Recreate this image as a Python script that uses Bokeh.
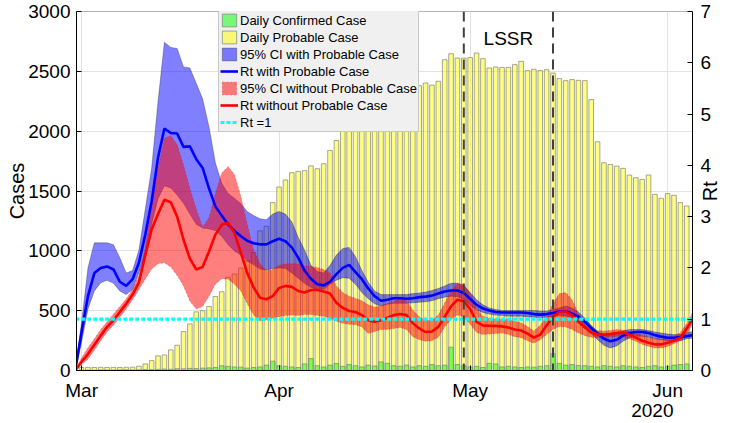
import math
from bokeh.plotting import figure
from bokeh.models import (Range1d, LinearAxis, FixedTicker, Span, Label,
                          Legend, LegendItem)
from bokeh.embed import file_html
from bokeh.resources import INLINE

# ---------------- data ----------------
month_ticks = [0, 31, 61, 92]          # day index from 1 March 2020
month_labels = ["Mar", "Apr", "May", "Jun"]
year_label = "2020"
year_label_day = 89.6
case_ticks = [0, 500, 1000, 1500, 2000, 2500, 3000]
rt_ticks = [0, 1, 2, 3, 4, 5, 6, 7]
rt_title = "Rt"
rt_title_pos = 3.3
lssr_days = [60, 74]
lssr_text = "LSSR"
rt_reference = 1

bar_days = list(range(0, 96))
daily_probable = [
    25, 26, 25, 27, 25, 26, 25, 27, 28, 36,
    55, 83, 122, 130, 172, 211, 325, 389, 490, 500,
    535, 618, 658, 778, 806, 856, 915, 985, 1167, 1205,
    1403, 1533, 1592, 1653, 1664, 1670, 1710, 1686, 1728, 1839,
    1922, 2010, 2060, 2100, 2150, 2120, 2190, 2230, 2200, 2260,
    2300, 2280, 2340, 2380, 2403, 2385, 2417, 2597, 2647, 2611,
    2611, 2615, 2653, 2606, 2528, 2536, 2533, 2533, 2556, 2583,
    2506, 2517, 2506, 2514, 2486, 2439, 2422, 2431, 2425, 2422,
    2264, 1911, 1736, 1722, 1708, 1689, 1633, 1611, 1597, 1633,
    1472, 1439, 1478, 1464, 1403, 1375]
daily_confirmed = [
    3, 4, 3, 5, 4, 4, 5, 6, 5, 6,
    8, 7, 10, 12, 10, 15, 14, 18, 16, 20,
    22, 25, 40, 35, 30, 28, 20, 25, 30, 45,
    78, 40, 35, 30, 25, 55, 100, 40, 30, 45,
    58, 35, 50, 40, 30, 45, 38, 72, 60, 40,
    36, 45, 30, 40, 35, 50, 40, 45, 195, 50,
    40, 30, 35, 25, 60, 55, 30, 35, 30, 25,
    30, 28, 35, 40, 140, 60, 45, 50, 42, 40,
    35, 30, 40, 35, 30, 40, 35, 30, 25, 35,
    40, 30, 35, 45, 50, 55]

rt_days = list(range(-1, 97))
rt_with_probable = [
    0.0, 0.75, 1.45, 1.90, 2.00, 2.03, 1.97, 1.73, 1.65, 1.78,
    2.10, 2.65, 3.30, 4.15, 4.72, 4.63, 4.62, 4.36, 4.37, 4.12,
    3.95, 3.55, 3.20, 3.02, 2.85, 2.72, 2.62, 2.53, 2.48, 2.46,
    2.46, 2.52, 2.57, 2.52, 2.40, 2.20, 1.95, 1.79, 1.68, 1.66,
    1.73, 1.88, 2.00, 2.06, 1.92, 1.78, 1.60, 1.45, 1.36, 1.38,
    1.41, 1.41, 1.40, 1.41, 1.43, 1.44, 1.46, 1.50, 1.54, 1.56,
    1.56, 1.51, 1.40, 1.28, 1.21, 1.17, 1.14, 1.13, 1.13, 1.13,
    1.13, 1.12, 1.10, 1.09, 1.10, 1.12, 1.15, 1.15, 1.11, 1.05,
    0.95, 0.83, 0.72, 0.62, 0.57, 0.60, 0.68, 0.73, 0.75, 0.75,
    0.73, 0.69, 0.66, 0.64, 0.64, 0.65, 0.67, 0.69]
ci_with_upper = [
    0.0, 0.95, 2.00, 2.49, 2.49, 2.49, 2.45, 2.20, 1.90, 1.95,
    2.35, 3.15, 3.95, 5.25, 6.40, 6.30, 6.28, 5.92, 5.90, 5.60,
    5.30, 4.75, 4.05, 3.65, 3.45, 3.36, 3.25, 3.10, 3.02, 2.96,
    2.94, 3.05, 3.10, 3.05, 2.90, 2.60, 2.35, 2.05, 1.93, 1.90,
    2.05, 2.25, 2.38, 2.40, 2.22, 1.95, 1.72, 1.55, 1.48, 1.48,
    1.48, 1.48, 1.48, 1.50, 1.51, 1.53, 1.56, 1.60, 1.65, 1.70,
    1.70, 1.65, 1.52, 1.38, 1.28, 1.22, 1.19, 1.17, 1.17, 1.17,
    1.17, 1.17, 1.17, 1.16, 1.16, 1.18, 1.22, 1.26, 1.22, 1.14,
    1.02, 0.88, 0.76, 0.70, 0.70, 0.72, 0.77, 0.80, 0.80, 0.80,
    0.78, 0.75, 0.73, 0.71, 0.70, 0.70, 0.74, 0.76]
ci_with_lower = [
    0.0, 0.55, 1.20, 1.55, 1.71, 1.76, 1.70, 1.55, 1.48, 1.58,
    1.90, 2.30, 2.85, 3.35, 3.60, 3.56, 3.42, 3.26, 3.05, 2.85,
    2.78, 2.76, 2.73, 2.62, 2.45, 2.33, 2.25, 2.14, 2.06, 1.98,
    1.96, 1.99, 2.00, 1.99, 1.90, 1.80, 1.70, 1.62, 1.58, 1.58,
    1.68, 1.76, 1.81, 1.80, 1.68, 1.52, 1.40, 1.30, 1.26, 1.29,
    1.31, 1.31, 1.31, 1.32, 1.33, 1.34, 1.36, 1.40, 1.43, 1.45,
    1.44, 1.39, 1.27, 1.18, 1.13, 1.10, 1.08, 1.07, 1.06, 1.06,
    1.06, 1.05, 1.04, 1.03, 1.04, 1.06, 1.07, 1.06, 1.03, 0.98,
    0.86, 0.72, 0.60, 0.49, 0.44, 0.48, 0.57, 0.64, 0.67, 0.67,
    0.65, 0.62, 0.60, 0.58, 0.57, 0.58, 0.62, 0.63]
rt_without_probable = [
    0.0, 0.17, 0.32, 0.50, 0.68, 0.85, 0.98, 1.14, 1.30, 1.48,
    1.72, 2.25, 2.75, 3.05, 3.33, 3.28, 3.00, 2.55, 2.18, 1.97,
    2.02, 2.32, 2.65, 2.84, 2.88, 2.68, 2.30, 1.90, 1.62, 1.42,
    1.39, 1.45, 1.61, 1.65, 1.63, 1.55, 1.52, 1.57, 1.57, 1.54,
    1.50, 1.32, 1.22, 1.16, 1.14, 1.08, 0.98, 0.95, 0.98, 1.03,
    1.08, 1.10, 1.08, 0.92, 0.82, 0.75, 0.76, 0.85, 1.05, 1.25,
    1.38, 1.35, 1.20, 0.95, 0.88, 0.87, 0.87, 0.86, 0.84, 0.80,
    0.78, 0.72, 0.64, 0.70, 0.88, 1.05, 1.14, 1.15, 1.08, 0.95,
    0.84, 0.74, 0.70, 0.70, 0.71, 0.73, 0.74, 0.70, 0.64, 0.58,
    0.54, 0.51, 0.51, 0.54, 0.58, 0.64, 0.82, 1.02]
ci_without_upper = [
    0.0, 0.25, 0.45, 0.62, 0.80, 0.95, 1.10, 1.25, 1.40, 1.58,
    1.85, 2.40, 3.25, 3.95, 4.53, 4.58, 4.40, 4.00, 3.55, 3.15,
    2.80, 2.98, 3.45, 3.85, 3.98, 3.82, 3.40, 2.85, 2.35, 2.08,
    1.95, 1.97, 2.05, 2.08, 2.08, 2.08, 2.04, 2.03, 2.01, 1.97,
    1.90, 1.65, 1.52, 1.45, 1.41, 1.36, 1.28, 1.24, 1.26, 1.30,
    1.35, 1.39, 1.36, 1.18, 1.05, 0.98, 0.98, 1.08, 1.32, 1.55,
    1.70, 1.68, 1.50, 1.20, 1.06, 1.02, 1.00, 1.00, 0.99, 0.96,
    0.93, 0.86, 0.77, 0.88, 1.06, 1.30, 1.50, 1.52, 1.38, 1.10,
    0.93, 0.83, 0.78, 0.77, 0.78, 0.80, 0.79, 0.76, 0.72, 0.68,
    0.64, 0.62, 0.61, 0.63, 0.67, 0.74, 0.92, 1.15]
ci_without_lower = [
    0.0, 0.12, 0.22, 0.40, 0.58, 0.75, 0.88, 1.04, 1.20, 1.38,
    1.58, 1.78, 1.98, 2.08, 2.10, 2.02, 1.85, 1.65, 1.35, 1.20,
    1.25, 1.45, 1.68, 1.79, 1.78, 1.68, 1.55, 1.30, 1.08, 0.97,
    0.98, 1.02, 1.05, 1.07, 1.08, 1.07, 1.09, 1.09, 1.07, 1.06,
    1.02, 0.96, 0.92, 0.90, 0.89, 0.85, 0.72, 0.76, 0.80, 0.80,
    0.82, 0.84, 0.80, 0.66, 0.60, 0.57, 0.58, 0.65, 0.85, 1.00,
    1.08, 1.05, 0.90, 0.74, 0.70, 0.71, 0.72, 0.73, 0.70, 0.66,
    0.64, 0.58, 0.53, 0.60, 0.70, 0.80, 0.86, 0.85, 0.80, 0.73,
    0.68, 0.65, 0.64, 0.64, 0.66, 0.67, 0.66, 0.62, 0.57, 0.51,
    0.47, 0.44, 0.44, 0.47, 0.52, 0.58, 0.72, 0.92]

# ---------------- figure ----------------
FONT = "Liberation Sans"
p = figure(frame_width=616, frame_height=359,
           x_range=Range1d(-0.8, 95.9), y_range=Range1d(0, 3000),
           output_backend="svg", toolbar_location=None,
           min_border_left=76, min_border_right=44,
           min_border_top=11, min_border_bottom=53)
p.extra_y_ranges = {"rt": Range1d(0, 7)}
p.outline_line_color = "#b3b3b3"
p.background_fill_color = "white"
p.border_fill_color = "white"

# grids
p.xgrid.ticker = FixedTicker(ticks=month_ticks)
p.ygrid.ticker = FixedTicker(ticks=case_ticks)
p.xgrid.grid_line_color = "#e3e3e3"
p.ygrid.grid_line_color = "#e3e3e3"

# bars
r_prob = p.vbar(x=bar_days, top=daily_probable, width=0.72,
                fill_color="#ffff00", fill_alpha=0.5,
                line_color="#808080", line_alpha=0.7, line_width=1)
r_conf = p.vbar(x=bar_days, top=daily_confirmed, width=0.72,
                fill_color="#00ff00", fill_alpha=0.5,
                line_color="#808080", line_alpha=0.7, line_width=1)

# confidence bands
band_x = rt_days + rt_days[::-1]
r_ci_with = p.patch(band_x, ci_with_upper + ci_with_lower[::-1],
                    y_range_name="rt", fill_color="#0000ff", fill_alpha=0.5,
                    line_color="#000000", line_alpha=0.35, line_width=0.8)
r_ci_without = p.patch(band_x, ci_without_upper + ci_without_lower[::-1],
                       y_range_name="rt", fill_color="#ff0000", fill_alpha=0.5,
                       line_color="#cc0000", line_alpha=0.35, line_width=0.8,
                       line_dash="2 2")

# Rt lines
r_rt_with = p.line(rt_days, rt_with_probable, y_range_name="rt",
                   line_color="#0000ff", line_width=2.6)
r_rt_without = p.line(rt_days, rt_without_probable, y_range_name="rt",
                      line_color="#ff0000", line_width=2.6)
r_ref = p.line(rt_days, [rt_reference] * len(rt_days), y_range_name="rt",
               line_color="#00ffff", line_width=3.2, line_dash="4 2")

# LSSR markers
for d in lssr_days:
    p.add_layout(Span(location=d, dimension="height", line_color="#404040",
                      line_width=2, line_dash="10 6"))
p.add_layout(Label(x=sum(lssr_days) / 2, y=6.47, y_range_name="rt",
                   text=lssr_text, text_font=FONT, text_font_size="19px",
                   text_align="center", text_baseline="middle",
                   text_color="black"))

# axes
p.xaxis.ticker = FixedTicker(ticks=month_ticks)
p.xaxis.major_label_overrides = {t: l for t, l in zip(month_ticks, month_labels)}
p.yaxis.ticker = FixedTicker(ticks=case_ticks)
p.yaxis.axis_label = "Cases"
right = LinearAxis(y_range_name="rt", ticker=FixedTicker(ticks=rt_ticks))
p.add_layout(right, "right")

for ax in [p.xaxis[0], p.yaxis[0], right]:
    ax.axis_line_color = "black"
    ax.axis_line_width = 1
    ax.major_tick_line_color = "black"
    ax.major_tick_in = 5
    ax.major_tick_out = 0
    ax.minor_tick_line_color = None
    ax.major_label_text_font = FONT
    ax.major_label_text_font_size = "19px"
    ax.major_label_text_color = "black"
    ax.axis_label_text_font = FONT
    ax.axis_label_text_font_size = "20px"
    ax.axis_label_text_font_style = "normal"
    ax.axis_label_text_color = "black"
p.xaxis.major_label_standoff = 9
p.yaxis.major_label_standoff = 6
p.yaxis.axis_label_standoff = -3
right.major_label_standoff = 8

# right-hand title "Rt" as a one-tick axis (reads bottom to top)
rt_title_axis = LinearAxis(y_range_name="rt",
                           ticker=FixedTicker(ticks=[rt_title_pos]),
                           major_label_overrides={rt_title_pos: rt_title},
                           major_label_orientation=math.pi / 2)
rt_title_axis.axis_line_color = None
rt_title_axis.major_tick_line_color = None
rt_title_axis.minor_tick_line_color = None
rt_title_axis.major_tick_in = 0
rt_title_axis.major_tick_out = 0
rt_title_axis.major_label_standoff = -4
rt_title_axis.major_label_text_font = FONT
rt_title_axis.major_label_text_font_size = "20px"
rt_title_axis.major_label_text_color = "black"
p.add_layout(rt_title_axis, "right")

# year label as a second bottom axis row
year_axis = LinearAxis(ticker=FixedTicker(ticks=[year_label_day]),
                       major_label_overrides={year_label_day: year_label})
year_axis.axis_line_color = None
year_axis.major_tick_line_color = None
year_axis.minor_tick_line_color = None
year_axis.major_tick_in = 0
year_axis.major_tick_out = 0
year_axis.major_label_standoff = 0
year_axis.major_label_text_font = FONT
year_axis.major_label_text_font_size = "19px"
year_axis.major_label_text_color = "black"
p.add_layout(year_axis, "below")

# legend
items = [
    LegendItem(label="Daily Confirmed Case", renderers=[r_conf]),
    LegendItem(label="Daily Probable Case", renderers=[r_prob]),
    LegendItem(label="95% CI with Probable Case", renderers=[r_ci_with]),
    LegendItem(label="Rt with Probable Case", renderers=[r_rt_with]),
    LegendItem(label="95% CI without Probable Case", renderers=[r_ci_without]),
    LegendItem(label="Rt without Probable Case", renderers=[r_rt_without]),
    LegendItem(label="Rt =1", renderers=[r_ref]),
]
legend = Legend(items=items, location=(142, 238))
legend.label_text_font = FONT
legend.label_text_font_size = "13px"
legend.label_text_color = "black"
legend.glyph_width = 18
legend.glyph_height = 16
legend.label_height = 16
legend.spacing = 1
legend.padding = 1
legend.margin = 0
legend.label_standoff = 2
legend.background_fill_color = "#f0f0f0"
legend.background_fill_alpha = 1.0
legend.border_line_color = "#a0a0a0"
legend.border_line_width = 1
p.add_layout(legend, "center")

open("out.html", "w").write(file_html(p, INLINE))
